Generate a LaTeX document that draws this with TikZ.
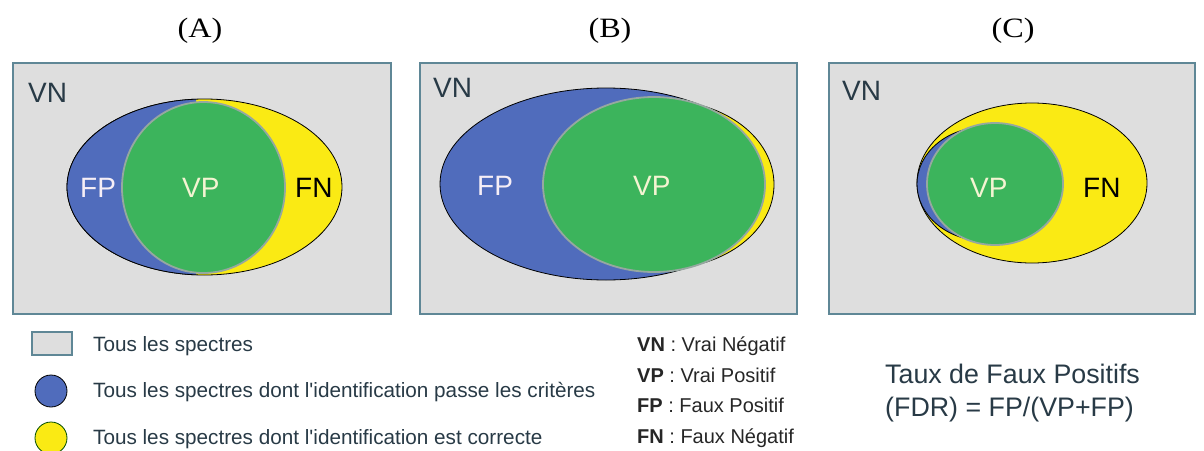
\documentclass[tikz,border=0pt]{standalone}
\usepackage{fontspec}
\setmainfont{Liberation Serif}
\newfontfamily\arial{Liberation Sans}
\definecolor{boxgray}{RGB}{222,222,222}
\definecolor{boxedge}{RGB}{95,135,150}
\definecolor{setblue}{RGB}{80,108,188}
\definecolor{setyellow}{RGB}{250,234,20}
\definecolor{setgreen}{RGB}{60,180,92}
\definecolor{circedge}{RGB}{150,168,160}
\definecolor{txtdark}{RGB}{40,58,70}
\definecolor{fpwhite}{RGB}{246,238,246}
\definecolor{vplight}{RGB}{244,244,210}
\begin{document}
\begin{tikzpicture}[x=1pt,y=-1pt,
  panel/.style={fill=boxgray,draw=boxedge,line width=1.6pt},
  blueset/.style={fill=setblue,draw=black,line width=0.8pt},
  yellowset/.style={fill=setyellow,draw=black,line width=0.8pt},
  greenset/.style={fill=setgreen,draw=circedge,line width=1.8pt},
  setlab/.style={font=\arial\fontsize{28}{30}\selectfont,inner sep=0pt,anchor=base west},
  title/.style={font=\fontsize{28}{30}\selectfont,inner sep=0pt,anchor=base,xscale=1.15},
  legtxt/.style={font=\arial\fontsize{20.7}{24}\selectfont,text=txtdark,inner sep=0pt,anchor=base west},
  deftxt/.style={font=\arial\fontsize{20}{22}\selectfont,text=black!85,inner sep=0pt,anchor=base west},
  fdrtxt/.style={font=\arial\fontsize{26.8}{30}\selectfont,text=txtdark,inner sep=0pt,anchor=base west}]
\useasboundingbox (0,0) rectangle (1204,450);
\fill[white] (0,0) rectangle (1204,450);

% titles
\node[title] (tA) at (200,37) {(A)};
\node[title] (tB) at (610,37) {(B)};
\node[title] (tC) at (1013,37) {(C)};

% panel A
\draw[panel] (13,63) rectangle (391,314);
\path[yellowset] (204.5,187) ellipse [x radius=137.5pt,y radius=88pt];
\begin{scope}
  \clip (0,60) rectangle (196,320);
  \path[blueset] (204.5,187) ellipse [x radius=137.5pt,y radius=88pt];
\end{scope}
\path[greenset] (203.5,187.5) ellipse [x radius=81.5pt,y radius=85.5pt];
\node[setlab,text=txtdark] (vnA) at (28,102) {VN};
\node[setlab,text=fpwhite] (fpA) at (80,197) {FP};
\node[setlab,text=vplight] (vpA) at (182,197) {VP};
\node[setlab,text=black] (fnA) at (295,197) {FN};

% panel B
\draw[panel] (420,63) rectangle (797,314);
\path[blueset] (606,184) ellipse [x radius=166pt,y radius=96pt];
\path[yellowset] (664,184.5) ellipse [x radius=110pt,y radius=84pt];
\path[greenset] (654,184.5) ellipse [x radius=111pt,y radius=87.5pt];
\node[setlab,text=txtdark] (vnB) at (433,97) {VN};
\node[setlab,text=fpwhite] (fpB) at (477,195) {FP};
\node[setlab,text=vplight] (vpB) at (633,195) {VP};

% panel C
\draw[panel] (829,63) rectangle (1195,314);
\path[yellowset] (1032,183) ellipse [x radius=115pt,y radius=80pt];
\path[blueset] (985,184) ellipse [x radius=68pt,y radius=57pt];
\path[greenset] (995,184) ellipse [x radius=68pt,y radius=61pt];
\node[setlab,text=txtdark] (vnC) at (842,100) {VN};
\node[setlab,text=vplight] (vpC) at (970,197) {VP};
\node[setlab,text=black] (fnC) at (1083,197) {FN};

% legend
\draw[fill=boxgray,draw=boxedge,line width=1.2pt] (32,332) rectangle (72,355);
\path[fill=setblue,draw=black,line width=0.8pt] (51,391) circle [radius=16pt];
\path[fill=setyellow,draw=black!70!green,line width=0.8pt] (51,438) circle [radius=16pt];
\node[legtxt] (l1) at (93,351) {Tous les spectres};
\node[legtxt] (l2) at (93,397) {Tous les spectres dont l'identification passe les critères};
\node[legtxt] (l3) at (93,444) {Tous les spectres dont l'identification est correcte};

\node[deftxt] (d1) at (637,351) {\textbf{VN} : Vrai Négatif};
\node[deftxt] (d2) at (637,382) {\textbf{VP} : Vrai Positif};
\node[deftxt] (d3) at (637,412) {\textbf{FP} : Faux Positif};
\node[deftxt] (d4) at (637,443) {\textbf{FN} : Faux Négatif};

\node[fdrtxt] (f1) at (885,383) {Taux de Faux Positifs};
\node[fdrtxt] (f2) at (885,416) {(FDR) = FP/(VP+FP)};
\end{tikzpicture}
\end{document}
